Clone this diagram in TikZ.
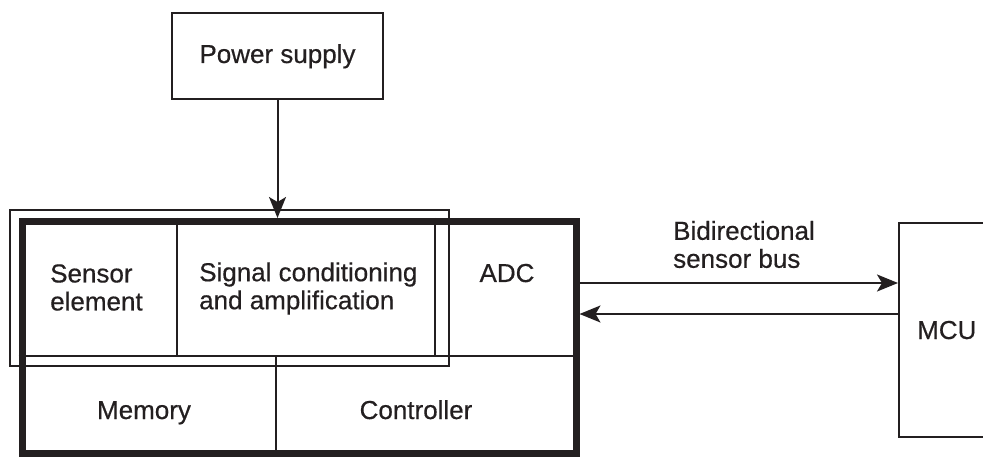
\documentclass[tikz,border=0pt]{standalone}
\usepackage{fontspec}
\setmainfont{Liberation Sans}
\newfontface\lblfont{Liberation Sans}[FakeBold=0.5]
\usetikzlibrary{arrows.meta}
\definecolor{ink}{RGB}{35,31,32}
\begin{document}
\begin{tikzpicture}[x=1pt,y=-1pt,
  thinline/.style={draw=ink,line width=2pt},
  lbl/.style={text=ink,font=\lblfont\fontsize{26}{28}\selectfont,inner sep=0pt},
  arr/.style={thinline,-{Stealth[length=21pt,width=17pt,inset=5pt]}}]
\useasboundingbox (0,0) rectangle (983,457);
\clip (0,0) rectangle (983,457);
% boxes
\node[thinline, minimum width=211pt, minimum height=86pt, inner sep=0pt] (power) at (277.5,56) {};
\node[lbl, anchor=base] (powertext) at (277.5,63) {Power supply};
\node[draw=ink, line width=7pt, minimum width=554pt, minimum height=231.5pt, inner sep=0pt] (module) at (299,337.25) {};
\node[thinline, minimum width=439.5pt, minimum height=156pt, inner sep=0pt] (frame) at (229.25,288) {};
\node[thinline, minimum width=88pt, minimum height=214pt, inner sep=0pt] (mcu) at (943,330) {};
% dividers
\coordinate (hl) at (module.west |- 0,356);
\coordinate (hr) at (module.east |- 0,356);
\draw[thinline] (hl) -- (hr);
\draw[thinline] (module.north -| 177,0) -- (hl -| 177,0);
\draw[thinline] (module.north -| 435,0) -- (hl -| 435,0);
\draw[thinline] (hl -| 276,0) -- (module.south -| 276,0);
% texts
\node[lbl, align=left, anchor=west] (sensor) at (50,287.5) {Sensor\\element};
\node[lbl, align=left, anchor=west] (signal) at (199,288.5) {Signal conditioning\\and amplification};
\node[lbl, anchor=base] (adc) at (507,282) {ADC};
\node[lbl, anchor=base] (memory) at (144,419) {Memory};
\node[lbl, anchor=base] (controller) at (416,419) {Controller};
\node[lbl, anchor=base west] (mcutext) at (917,339) {MCU};
\node[lbl, align=left, anchor=west] (buslabel) at (673,244.5) {Bidirectional\\sensor bus};
% connectors
\draw[arr] (power.south) -- (power.south |- module.north);
\draw[arr] (module.east |- 0,283) -- (mcu.west |- 0,283);
\draw[arr] (mcu.west |- 0,314) -- (module.east |- 0,314);
\end{tikzpicture}
\end{document}
